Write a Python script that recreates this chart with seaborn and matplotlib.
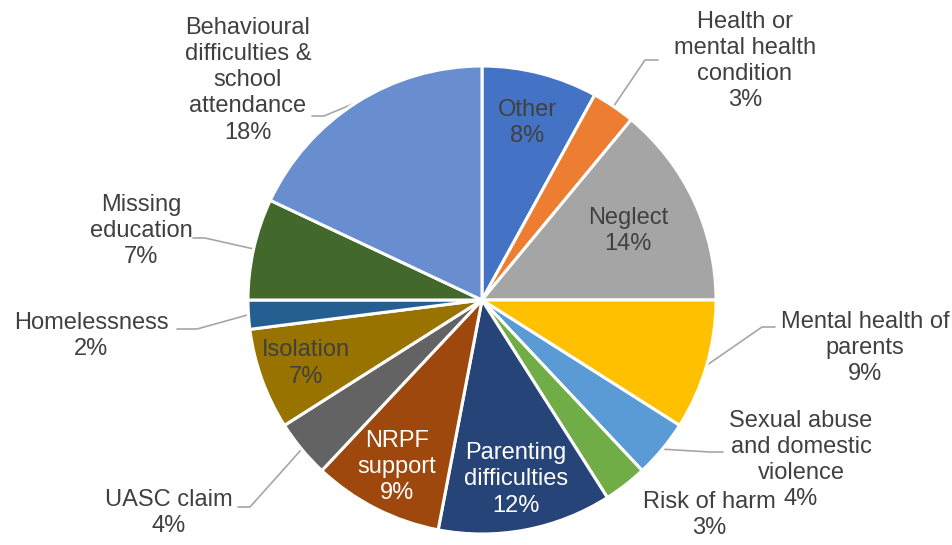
import numpy as np
import matplotlib
matplotlib.use("Agg")
import matplotlib.pyplot as plt
import seaborn as sns

# ---- data ----
categories = [
    "Other", "Health or\nmental health\ncondition", "Neglect",
    "Mental health of\nparents", "Sexual abuse\nand domestic\nviolence",
    "Risk of harm", "Parenting\ndifficulties", "NRPF\nsupport",
    "UASC claim", "Isolation", "Homelessness", "Missing\neducation",
    "Behavioural\ndifficulties &\nschool\nattendance",
]
percentages = [8, 3, 14, 9, 4, 3, 12, 9, 4, 7, 2, 7, 18]

# ---- styles ----
colors = ["#4472C4", "#ED7D31", "#A5A5A5", "#FFC000", "#5B9BD5", "#70AD47",
          "#264478", "#9E480E", "#636363", "#997300", "#255E91", "#43682B",
          "#698ED0"]
W, H = 953, 545
CENTER_PX = (482, 300)
RADIUS_PX = 234

# label layout (pixel positions in the image, y down)
inside = {0: "#404040", 2: "#404040", 6: "white", 7: "white", 9: "#404040"}
inside_r = {0: 0.78, 2: 0.69, 6: 0.78, 7: 0.80, 9: 0.80}
outside_pos = {1: (745, 61), 3: (865, 348), 4: (801, 460), 5: (709, 515),
               8: (169, 513), 10: (91, 336), 11: (141, 231), 12: (248, 80)}
leaders = {1: [(645, 60), (658, 60)], 3: [(762, 327), (775, 327)],
           4: [(710, 452), (723, 452)], 8: [(250, 507), (238, 507)],
           10: [(197, 329), (177, 329)], 11: [(205, 238), (193, 238)],
           12: [(324, 116), (312, 116)]}
LS = 1.25

sns.set_theme(style="white")
plt.rcParams["font.family"] = ["Liberation Sans", "DejaVu Sans"]

fig = plt.figure(figsize=(W / 100, H / 100), dpi=100)
ax = fig.add_axes([0, 0, 1, 1])


def P(x, y):
    return (x, H - y)


cx, cy = P(*CENTER_PX)
wedges, _ = ax.pie(percentages, colors=colors, startangle=90, counterclock=False,
                   center=(cx, cy), radius=RADIUS_PX, frame=True,
                   wedgeprops=dict(edgecolor="white", linewidth=2.2))
ax.set_xlim(0, W)
ax.set_ylim(0, H)
ax.set_aspect("equal")
ax.axis("off")

for i, (w, cat, pct) in enumerate(zip(wedges, categories, percentages)):
    mid = np.deg2rad((w.theta1 + w.theta2) / 2)
    label = f"{cat}\n{pct}%"
    if i in inside:
        r = inside_r[i] * RADIUS_PX
        ax.text(cx + r * np.cos(mid), cy + r * np.sin(mid), label,
                ha="center", va="center", fontsize=17, color=inside[i],
                linespacing=LS)
    else:
        tx, ty = P(*outside_pos[i])
        ax.text(tx, ty, label, ha="center", va="center", fontsize=17,
                color="#404040", linespacing=LS)
        if i in leaders:
            sx = cx + RADIUS_PX * np.cos(mid)
            sy = cy + RADIUS_PX * np.sin(mid)
            pts = [(sx, sy)] + [P(*p) for p in leaders[i]]
            xs, ys = zip(*pts)
            ax.plot(xs, ys, color="#A6A6A6", linewidth=1.2, zorder=0.5)

fig.savefig("out.png", dpi=100, facecolor="white")
